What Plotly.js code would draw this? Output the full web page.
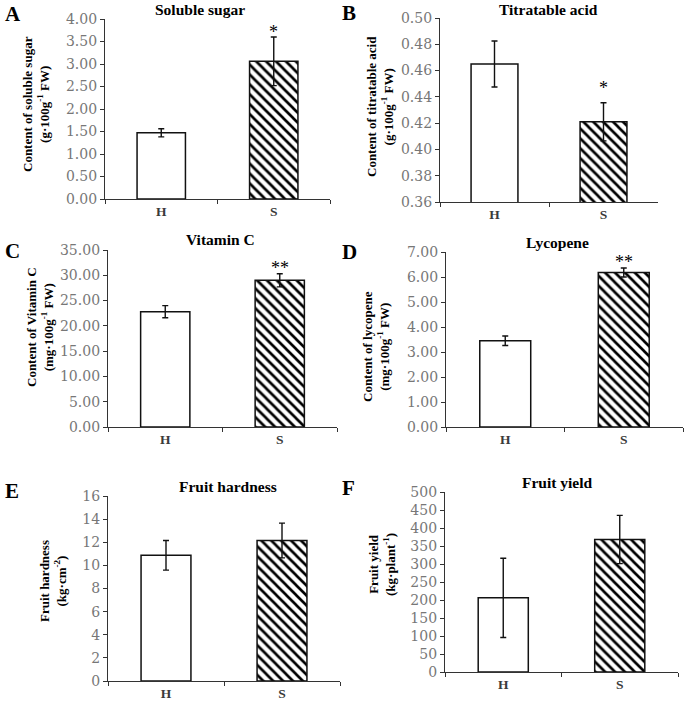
<!DOCTYPE html>
<html><head><meta charset="utf-8">
<script src="https://cdn.plot.ly/plotly-3.0.1.min.js"></script>
<style>html,body{margin:0;padding:0;background:#fff}</style>
</head><body>
<div id="chart" style="width:685px;height:703px"></div>
<script>
// ---- data ----
const categories = ["H", "S"];
const panelLetters = ["A", "B", "C", "D", "E", "F"];
const panelTitles = ["Soluble sugar", "Titratable acid", "Vitamin C", "Lycopene", "Fruit hardness", "Fruit yield"];
const yTitles = [
  "Content of soluble sugar<br>(g·100g<sup>-1</sup> FW)",
  "Content of titratable acid<br>(g·100g<sup>-1</sup> FW)",
  "Content of Vitamin C<br>(mg·100g<sup>-1</sup> FW)",
  "Content of lycopene<br>(mg·100g<sup>-1</sup> FW)",
  "Fruit hardness<br>(kg·cm<sup>-2</sup>)",
  "Fruit yield<br>(kg·plant<sup>-1</sup>)"
];
const solubleSugar = [1.47, 3.06];
const solubleSugarErr = [0.09, 0.54];
const titratableAcid = [0.465, 0.421];
const titratableAcidErr = [0.0175, 0.0145];
const vitaminC = [22.8, 29.0];
const vitaminCErr = [1.2, 1.3];
const lycopene = [3.45, 6.18];
const lycopeneErr = [0.19, 0.18];
const fruitHardness = [10.87, 12.15];
const fruitHardnessErr = [1.28, 1.5];
const fruitYield = [206, 368];
const fruitYieldErr = [110, 67];
const significance = ["*", "*", "**", "**", "", ""];
const significanceY = [3.82, 0.4505, 32.4, 6.8, null, null];
const yRanges = [[0, 4], [0.36, 0.50], [0, 35], [0, 7], [0, 16], [0, 500]];
const yDticks = [0.5, 0.02, 5, 1, 2, 50];
const yFormats = [".2f", ".2f", ".2f", ".2f", "d", "d"];

const values = [solubleSugar, titratableAcid, vitaminC, lycopene, fruitHardness, fruitYield];
const errors = [solubleSugarErr, titratableAcidErr, vitaminCErr, lycopeneErr, fruitHardnessErr, fruitYieldErr];

// ---- layout geometry (pixels) ----
const W = 685, H = 703;
const px = x => x / W;
const py = y => 1 - y / H;
const boxes = [ // [x0, x1, yTop, yBottom]
  [105, 330, 19, 199],
  [440, 658, 18, 202],
  [108, 337, 250, 427],
  [446, 683, 252, 427],
  [108, 340, 496, 681],
  [445, 678, 492, 672]
];
const titlePos = [[200, 10], [548, 10], [220, 240], [557, 243], [228, 486], [557, 482]];
const letterPos = [[3, 14], [340, 13], [3, 251], [340, 252], [3, 491], [340, 488]];
const yTitlePos = [[36, 104], [380, 107], [40, 327], [376, 347], [53, 581], [382, 565]];

const SERIF = "Liberation Serif, Times New Roman, serif";
const TICKSERIF = "DejaVu Serif, serif";
const traces = [];
const layout = {
  width: W, height: H,
  margin: {l: 0, r: 0, t: 0, b: 0},
  paper_bgcolor: "#fff", plot_bgcolor: "rgba(0,0,0,0)",
  showlegend: false,
  font: {family: SERIF, color: "#000"},
  annotations: []
};

for (let i = 0; i < 6; i++) {
  const sfx = i === 0 ? "" : String(i + 1);
  const b = boxes[i];
  for (let k = 0; k < 2; k++) {
    const marker = {color: "#ffffff", line: {color: "#111", width: 1.5}};
    if (k === 1) {
      marker.pattern = {shape: "\\", fgcolor: "#000000", bgcolor: "#ffffff", size: 7, solidity: 0.38, fillmode: "replace"};
    }
    traces.push({
      type: "bar",
      x: [categories[k]],
      y: [values[i][k]],
      xaxis: "x" + sfx, yaxis: "y" + sfx,
      width: 0.43,
      marker: marker,
      error_y: {type: "data", array: [errors[i][k]], visible: true, color: "#111", thickness: 1.4, width: 3},
      hoverinfo: "skip"
    });
  }
  layout["xaxis" + sfx] = {
    domain: [px(b[0]), px(b[1])],
    anchor: "y" + sfx,
    type: "category",
    categoryarray: categories,
    range: [-0.5, 1.5],
    showline: true, linecolor: "#333", linewidth: 1.3,
    ticks: "outside", tickson: "boundaries", ticklen: 4, tickcolor: "#333", tickwidth: 1.3,
    tickfont: {family: SERIF, size: 13.5, color: "#3a3a3a", weight: "bold"},
    showgrid: false, zeroline: false, fixedrange: true
  };
  layout["yaxis" + sfx] = {
    domain: [py(b[3]), py(b[2])],
    anchor: "x" + sfx,
    range: yRanges[i],
    dtick: yDticks[i],
    tick0: yRanges[i][0],
    tickformat: yFormats[i],
    showline: true, linecolor: "#333", linewidth: 1.3,
    ticks: "outside", ticklen: 4, tickcolor: "#333", tickwidth: 1.3,
    tickfont: {family: TICKSERIF, size: 14, color: "#777"},
    showgrid: false, zeroline: false, fixedrange: true
  };
  layout.annotations.push({
    xref: "paper", yref: "paper", x: px(titlePos[i][0]), y: py(titlePos[i][1]),
    xanchor: "center", yanchor: "middle", showarrow: false,
    text: "<b>" + panelTitles[i] + "</b>",
    font: {family: SERIF, size: 15.5, color: "#000"}
  });
  layout.annotations.push({
    xref: "paper", yref: "paper", x: px(letterPos[i][0]), y: py(letterPos[i][1]),
    xanchor: "left", yanchor: "middle", showarrow: false,
    text: "<b>" + panelLetters[i] + "</b>",
    font: {family: SERIF, size: 21, color: "#000"}
  });
  layout.annotations.push({
    xref: "paper", yref: "paper", x: px(yTitlePos[i][0]), y: py(yTitlePos[i][1]),
    xanchor: "center", yanchor: "middle", showarrow: false, textangle: -90,
    text: "<b>" + yTitles[i] + "</b>",
    font: {family: SERIF, size: 13, color: "#000"}
  });
  if (significance[i]) {
    layout.annotations.push({
      xref: "x" + sfx, yref: "y" + sfx, x: categories[1], y: significanceY[i],
      xanchor: "center", yanchor: "middle", showarrow: false, yshift: -5,
      text: significance[i],
      font: {family: SERIF, size: 18, color: "#000"}
    });
  }
}

Plotly.newPlot("chart", traces, layout, {displayModeBar: false});
</script>
</body></html>
